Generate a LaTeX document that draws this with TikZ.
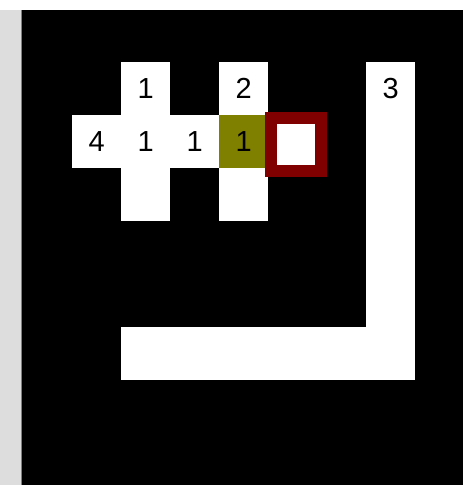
\documentclass[tikz,border=0pt]{standalone}
\usepackage{fontspec}
\setmainfont{Liberation Sans}
\definecolor{stripgray}{RGB}{221,221,221}
\definecolor{cellolive}{RGB}{128,128,0}
\definecolor{boxred}{RGB}{128,0,0}
\begin{document}
\begin{tikzpicture}[x=1pt,y=-1pt,
  cell/.style={fill=white,draw=none,inner sep=0pt,minimum width=49pt,minimum height=53pt,anchor=north west,font=\fontsize{29}{29}\selectfont},
  olivecell/.style={cell,fill=cellolive},
  cursor/.style={draw=boxred,line width=12pt,fill=white,inner sep=0pt,minimum width=50pt,minimum height=53.5pt}]
\useasboundingbox (0,0) rectangle (463,485);
\fill[white] (0,0) rectangle (463,485);
\fill[stripgray] (0,10) rectangle (21,485);
\fill[black] (21,10) rectangle (463,485);
\draw[gray,line width=1pt] (21,10) -- (21,485);
% row 1
\node[cell] (r1c2) at (121,62) {1};
\node[cell] (r1c4) at (219,62) {2};
\node[cell] (r1c7) at (366,62) {3};
% row 2
\node[cell] (r2c1) at (72,115) {4};
\node[cell] (r2c2) at (121,115) {1};
\node[cell] (r2c3) at (170,115) {1};
\node[olivecell] (r2c4) at (219,115) {1};
\node[cell] (r2c7) at (366,115) {};
% row 3
\node[cell] (r3c2) at (121,168) {};
\node[cell] (r3c4) at (219,168) {};
\node[cell] (r3c7) at (366,168) {};
% rows 4-5
\node[cell] (r4c7) at (366,221) {};
\node[cell] (r5c7) at (366,274) {};
% row 6: horizontal bar
\node[cell,minimum width=294pt] (r6) at (121,327) {};
% cursor box
\node[cursor] (cur) at (295.5,144.25) {};
\end{tikzpicture}
\end{document}
